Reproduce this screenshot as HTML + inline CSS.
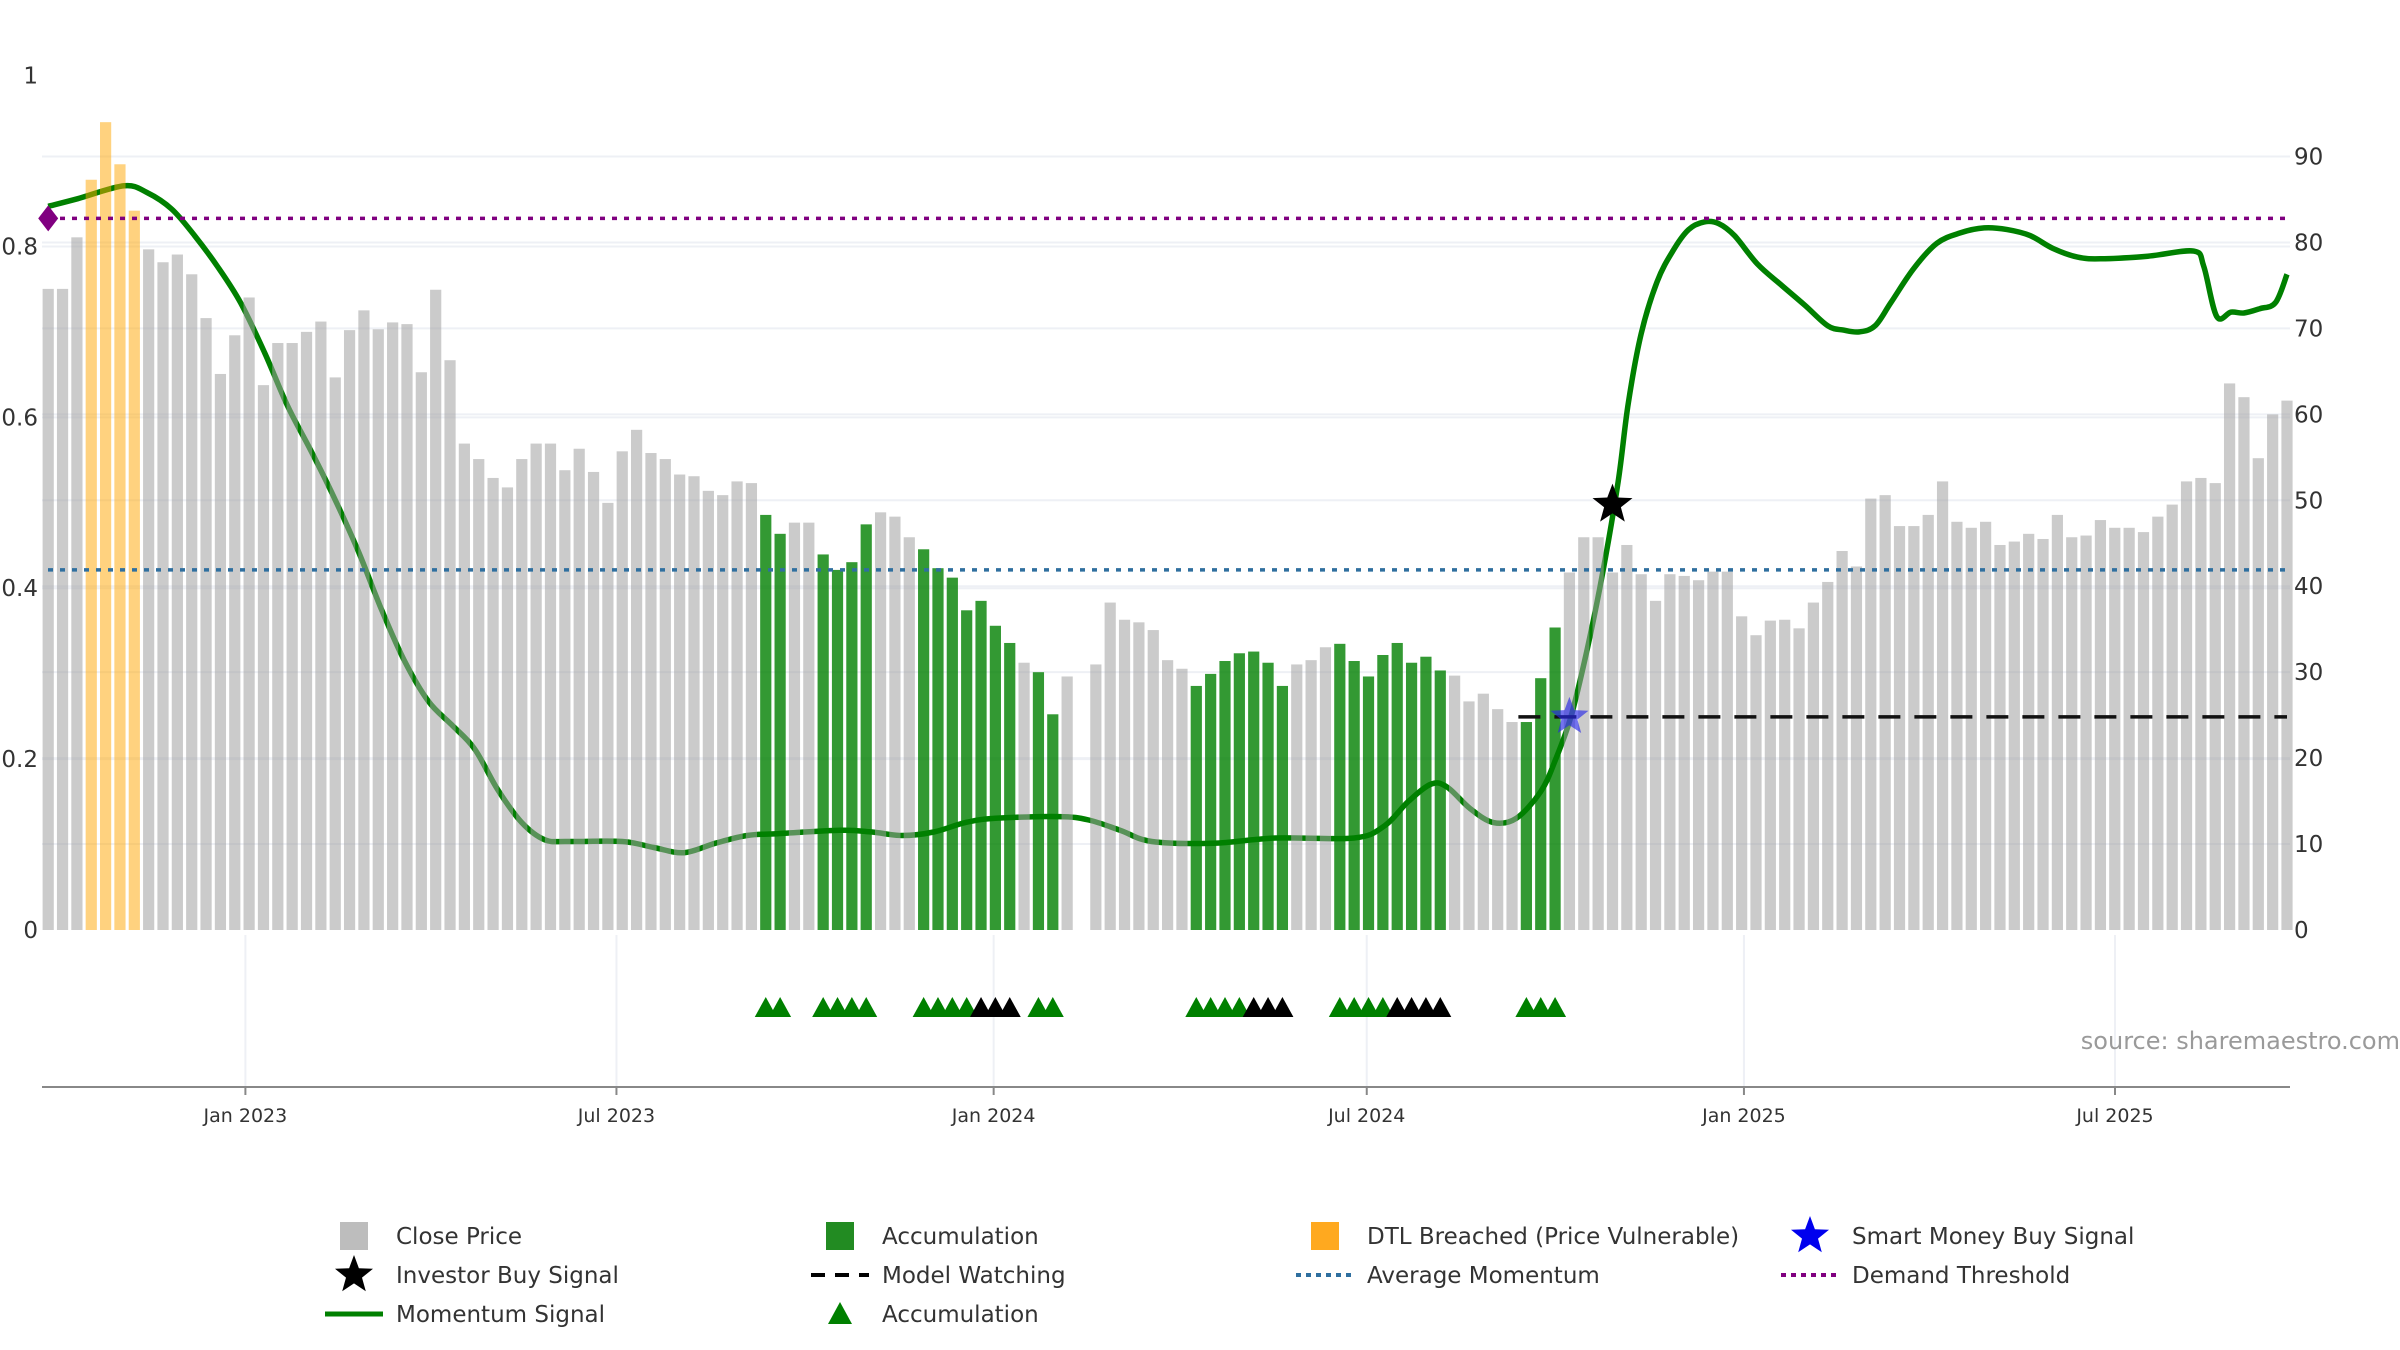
<!DOCTYPE html>
<html><head><meta charset="utf-8"><style>
html,body{margin:0;padding:0;background:#fff;}
svg{display:block;font-family:"DejaVu Sans","Liberation Sans",sans-serif;}
</style></head><body>
<svg id="chart" width="2400" height="1350" viewBox="0 0 2400 1350" xmlns="http://www.w3.org/2000/svg">
<g id="grid"></g>
<g id="lines"></g>
<g id="bars"></g>
<g id="overlay"></g>
<g id="axes"></g>
<g id="legend"></g>
<text x="2400" y="1049" text-anchor="end" font-size="24" fill="#9a9a9a">source: sharemaestro.com</text>
</svg>
<script>
const prices = [74.6,74.6,80.6,87.3,94,89.1,83.7,79.2,77.7,78.6,76.3,71.2,64.7,69.2,73.6,63.4,68.3,68.3,69.6,70.8,64.3,69.8,72.1,69.9,70.7,70.5,64.9,74.5,66.3,56.6,54.8,52.6,51.5,54.8,56.6,56.6,53.5,56,53.3,49.7,55.7,58.2,55.5,54.8,53,52.8,51.1,50.6,52.2,52,48.3,46.1,47.4,47.4,43.7,41.9,42.8,47.2,48.6,48.1,45.7,44.3,42.1,41,37.2,38.3,35.4,33.4,31.1,30,25.1,29.5,0,30.9,38.1,36.1,35.8,34.9,31.4,30.4,28.4,29.8,31.3,32.2,32.4,31.1,28.4,30.9,31.4,32.9,33.3,31.3,29.5,32,33.4,31.1,31.8,30.2,29.6,26.6,27.5,25.7,24.2,24.2,29.3,35.2,41.6,45.7,45.7,41.6,44.8,41.4,38.3,41.4,41.2,40.7,41.7,41.7,36.5,34.3,36,36.1,35.1,38.1,40.5,44.1,42.3,50.2,50.6,47,47,48.3,52.2,47.5,46.8,47.5,44.8,45.2,46.1,45.5,48.3,45.7,45.9,47.7,46.8,46.8,46.3,48.1,49.5,52.2,52.6,52,63.6,62,54.9,60,61.6];
const accumBars = [50,51,54,55,56,57,61,62,63,64,65,66,67,69,70,80,81,82,83,84,85,86,90,91,92,93,94,95,96,97,103,104,105];
const dtlBars = [3,4,5,6];
const accumTriGreen = [50,51,54,55,56,57,61,62,63,64,69,70,80,81,82,83,90,91,92,93,103,104,105];
const accumTriBlack = [65,66,67,84,85,86,94,95,96,97];
const momIdx = [0,2.06,5.3,6.9,8.6,10.2,11.8,13.4,15.1,16.7,18.3,19.9,21.6,23.2,24.8,26.5,28.1,29.7,31.3,33,34.6,36.2,40,42.2,44.3,46.5,48.7,50.8,55.2,57.4,59.5,61.7,63.9,66,70.4,72.5,74.7,76.9,81.2,85.5,91,93.1,94.8,96.4,97.5,99.1,100.7,102.3,104,105,106.1,107.2,108.3,109.4,110.1,111,112.1,113.2,114.3,115.4,116.4,117.5,119.1,120.8,122.4,124,125.1,126.2,127.3,128.4,130,131.6,133.2,134.9,136.5,138.1,139.7,141.4,143,146.3,149.5,150.2,151.1,152.1,153,154.1,155.2,156];
const momVal = [84.2,85.1,86.6,85.8,83.9,80.8,77.2,73,67.1,60.9,55.8,50.4,44.1,37.4,31.4,26.6,23.9,21.1,16.4,12.5,10.5,10.3,10.3,9.6,9,10.1,11,11.2,11.6,11.4,11,11.4,12.5,13,13.2,12.8,11.6,10.3,10.1,10.7,10.7,12.1,15,17,16.6,14.1,12.5,13,16.1,19.7,24.8,32.4,41.4,52.2,61.3,69.4,75.4,79,81.5,82.4,82.2,80.8,77.5,75,72.7,70.3,69.8,69.6,70.3,73,77,79.9,81.1,81.7,81.5,80.8,79.3,78.3,78.1,78.4,79,77.2,71.4,71.9,71.8,72.3,73,76.3];
const demandThreshold = 82.8;
const avgMomentum = 41.9;
const modelWatching = 24.8;
const modelWatchStart = 103;
const investorBuy = [109, 49.5];
const smartMoneyBuy = [106, 24.8];
const rightTicks = [0,10,20,30,40,50,60,70,80,90];
const leftTicks = [0,0.2,0.4,0.6,0.8,1];
const leftTickLabels = ["0","0.2","0.4","0.6","0.8","1"];
const dateTickDays = [0,181,365,547,731,912];
const dateTickLabels = ["Jan 2023","Jul 2023","Jan 2024","Jul 2024","Jan 2025","Jul 2025"];

const NS="http://www.w3.org/2000/svg";
const X0=48.2, STEP=(2287-48.2)/156;
const xOf=i=>X0+i*STEP;
const yR=v=>930-v*8.594;
const yL=f=>930-f*854.4;
const xDay=d=>245.4+d*2.05;
function mk(tag,attrs,parent){const e=document.createElementNS(NS,tag);for(const k in attrs)e.setAttribute(k,attrs[k]);parent.appendChild(e);return e;}
const G=id=>document.getElementById(id);

// grid
const grid=G('grid');
rightTicks.forEach(v=>{if(v===0)return;const l=mk('line',{x1:42,x2:2290,y1:yR(v),y2:yR(v),stroke:'#eef0f5','stroke-width':2},grid);

});
leftTicks.forEach(f=>{if(f===0||f===1)return;const l=mk('line',{x1:42,x2:2290,y1:yL(f),y2:yL(f),stroke:'#eef0f5','stroke-width':2},grid);

});
dateTickDays.forEach(d=>{const l=mk('line',{x1:xDay(d),x2:xDay(d),y1:935,y2:1087,stroke:'#eef0f5','stroke-width':2},grid);

});

// momentum line (smooth catmull-rom)
function smoothPath(pts){let d=`M${pts[0][0]},${pts[0][1]}`;for(let i=0;i<pts.length-1;i++){const p0=pts[i-1]||pts[i],p1=pts[i],p2=pts[i+1],p3=pts[i+2]||p2;
const c1=[p1[0]+(p2[0]-p0[0])/6,p1[1]+(p2[1]-p0[1])/6],c2=[p2[0]-(p3[0]-p1[0])/6,p2[1]-(p3[1]-p1[1])/6];
d+=` C${c1[0].toFixed(1)},${c1[1].toFixed(1)} ${c2[0].toFixed(1)},${c2[1].toFixed(1)} ${p2[0].toFixed(1)},${p2[1].toFixed(1)}`;}return d;}
const mpts=momIdx.map((i,k)=>[xOf(i),yR(momVal[k])]);
const mline=mk('path',{d:smoothPath(mpts),fill:'none',stroke:'#008000','stroke-width':5.5,'stroke-linejoin':'round'},G('lines'));



// bars
const bars=G('bars');
prices.forEach((v,i)=>{if(v<=0)return;let fill='rgba(160,160,160,0.55)',name='close-price-bar';
if(accumBars.includes(i)){fill='rgba(0,128,0,0.8)';name='accumulation-bar';}
else if(dtlBars.includes(i)){fill='rgba(255,165,0,0.5)';name='dtl-breached-bar';}
const r=mk('rect',{x:xOf(i)-5.6,y:yR(v),width:11.2,height:930-yR(v),fill:fill},bars);

});

// overlays
const ov=G('overlay');
let l=mk('line',{x1:48,x2:2287,y1:yR(demandThreshold),y2:yR(demandThreshold),stroke:'#800080','stroke-width':3.5,'stroke-dasharray':'5 7'},ov);


l=mk('line',{x1:48,x2:2287,y1:yR(avgMomentum),y2:yR(avgMomentum),stroke:'#2f6f9f','stroke-width':3.5,'stroke-dasharray':'5 7'},ov);


l=mk('line',{x1:xOf(modelWatchStart)-8,x2:2287,y1:yR(modelWatching),y2:yR(modelWatching),stroke:'#111','stroke-width':3.5,'stroke-dasharray':'22 14'},ov);


const dm=mk('polygon',{points:`${xOf(0)-10},${yR(demandThreshold)} ${xOf(0)},${yR(demandThreshold)-13} ${xOf(0)+10},${yR(demandThreshold)} ${xOf(0)},${yR(demandThreshold)+13}`,fill:'#800080'},ov);


function star(cx,cy,R,fill,name,stroke){let p=[];for(let k=0;k<10;k++){const a=-Math.PI/2+k*Math.PI/5,r=k%2?R*0.42:R;p.push((cx+r*Math.cos(a)).toFixed(1)+','+(cy+r*Math.sin(a)).toFixed(1));}
const s=mk('polygon',{points:p.join(' '),fill:fill,stroke:stroke||'none','stroke-width':1},ov);

return s;}
star(xOf(smartMoneyBuy[0]),yR(smartMoneyBuy[1]),20,'rgba(40,40,230,0.65)','smart-money-buy-signal');
star(xOf(investorBuy[0]),yR(investorBuy[1]),21,'#000','investor-buy-signal');
function tri(i,fill,name){const cx=xOf(i),cy=1007;const t=mk('polygon',{points:`${cx-11},${cy+10} ${cx},${cy-10} ${cx+11},${cy+10}`,fill:fill},ov);

}
accumTriGreen.forEach(i=>tri(i,'#008000','accumulation-triangle'));
accumTriBlack.forEach(i=>tri(i,'#000','accumulation-triangle-black'));

// axes
const ax=G('axes');
l=mk('line',{x1:42,x2:2290,y1:1087,y2:1087,stroke:'#888','stroke-width':2},ax);


dateTickDays.forEach((d,k)=>{const t=mk('line',{x1:xDay(d),x2:xDay(d),y1:1087,y2:1095,stroke:'#888','stroke-width':2},ax);


const tx=mk('text',{x:xDay(d),y:1122,'text-anchor':'middle','font-size':19,fill:'#333'},ax);tx.textContent=dateTickLabels[k];

});
rightTicks.forEach(v=>{const tx=mk('text',{x:2294,y:yR(v)+8,'font-size':23,fill:'#333'},ax);tx.textContent=String(v);

});
leftTicks.forEach((f,k)=>{const tx=mk('text',{x:38,y:yL(f)+8,'text-anchor':'end','font-size':23,fill:'#333'},ax);tx.textContent=leftTickLabels[k];

});

// legend
const lg=G('legend');
const cols=[354,840,1325,1810],rows=[1236,1275,1314];
function ltext(c,r,s){const t=mk('text',{x:cols[c]+42,y:rows[r]+8,'font-size':23,fill:'#333'},lg);t.textContent=s;

}
function lsq(c,r,fill,name){const e=mk('rect',{x:cols[c]-14,y:rows[r]-14,width:28,height:28,fill:fill},lg);

}
function lline(c,r,stroke,dash,w,name){const e=mk('line',{x1:cols[c]-29,x2:cols[c]+29,y1:rows[r],y2:rows[r],stroke:stroke,'stroke-width':w,'stroke-dasharray':dash},lg);

}
lsq(0,0,'#bdbdbd','legend-close-price-swatch');ltext(0,0,'Close Price');
lsq(1,0,'#228b22','legend-accumulation-swatch');ltext(1,0,'Accumulation');
lsq(2,0,'#ffa91f','legend-dtl-swatch');ltext(2,0,'DTL Breached (Price Vulnerable)');
ltext(3,0,'Smart Money Buy Signal');
ltext(0,1,'Investor Buy Signal');
lline(1,1,'#000','14 10',4,'legend-model-watching-swatch');ltext(1,1,'Model Watching');
lline(2,1,'#2f6f9f','5 5',4,'legend-average-momentum-swatch');ltext(2,1,'Average Momentum');
lline(3,1,'#800080','5 5',4,'legend-demand-threshold-swatch');ltext(3,1,'Demand Threshold');
lline(0,2,'#008000','none',5,'legend-momentum-swatch');ltext(0,2,'Momentum Signal');
ltext(1,2,'Accumulation');
function lstar(c,r,fill,name){let p=[];const cx=cols[c],cy=rows[r],R=20;for(let k=0;k<10;k++){const a=-Math.PI/2+k*Math.PI/5,rr=k%2?R*0.42:R;p.push((cx+rr*Math.cos(a)).toFixed(1)+','+(cy+rr*Math.sin(a)).toFixed(1));}
const s=mk('polygon',{points:p.join(' '),fill:fill},lg);

}
lstar(3,0,'#0000ee','legend-smart-money-swatch');
lstar(0,1,'#000','legend-investor-buy-swatch');
const lt=mk('polygon',{points:`${cols[1]-12},${rows[2]+10} ${cols[1]},${rows[2]-12} ${cols[1]+12},${rows[2]+10}`,fill:'#008000'},lg);


</script>
</body></html>
